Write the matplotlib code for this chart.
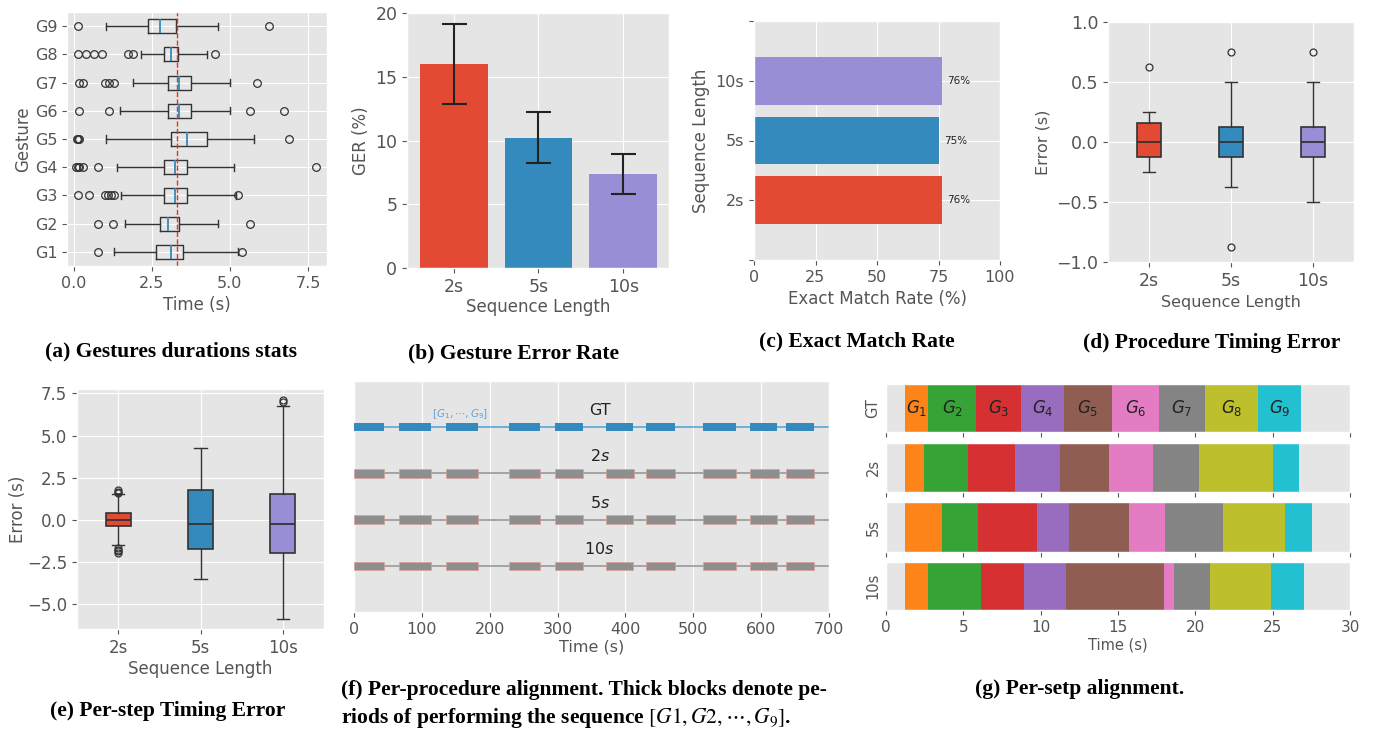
import matplotlib
matplotlib.use('Agg')
import matplotlib.pyplot as plt
import numpy as np

plt.style.use('ggplot')

# ---------------- data ----------------
gestures = ['G1', 'G2', 'G3', 'G4', 'G5', 'G6', 'G7', 'G8', 'G9']
dur_q1 = [2.63, 2.76, 2.88, 2.88, 3.12, 3.00, 3.00, 2.88, 2.39]
dur_med = [3.12, 3.00, 3.25, 3.25, 3.63, 3.38, 3.38, 3.12, 2.77]
dur_q3 = [3.50, 3.38, 3.63, 3.63, 4.26, 3.76, 3.76, 3.35, 3.26]
dur_whislo = [1.27, 1.63, 1.50, 1.39, 1.02, 1.47, 1.89, 2.14, 1.02]
dur_whishi = [5.26, 4.63, 5.20, 5.14, 5.78, 5.00, 5.00, 4.26, 4.63]
dur_fliers = [[0.76, 5.38],
              [0.76, 1.26, 5.63],
              [0.12, 0.50, 1.00, 1.10, 1.20, 1.28, 5.25],
              [0.06, 0.12, 0.18, 0.29, 0.76, 7.75],
              [0.10, 0.12, 0.15, 6.88],
              [0.15, 1.13, 5.63, 6.74],
              [0.15, 0.28, 1.00, 1.13, 1.27, 5.86],
              [0.12, 0.39, 0.64, 0.89, 1.73, 1.88, 4.51],
              [0.12, 6.25]]
dur_mean_line = 3.3

seq_labels = ['2s', '5s', '10s']
ger = [16.0, 10.2, 7.37]
ger_err = [3.1, 2.0, 1.6]

emr = [76.4, 75.2, 76.4]

proc_q1 = [-0.125, -0.125, -0.125]
proc_med = [0.0, 0.0, 0.0]
proc_q3 = [0.155, 0.125, 0.125]
proc_whislo = [-0.25, -0.375, -0.5]
proc_whishi = [0.25, 0.5, 0.5]
proc_fliers = [[0.625], [0.75, -0.875], [0.75]]

step_q1 = [-0.36, -1.74, -1.98]
step_med = [0.0, -0.24, -0.24]
step_q3 = [0.39, 1.77, 1.51]
step_whislo = [-1.47, -3.50, -5.85]
step_whishi = [1.52, 4.26, 6.76]
step_fliers = [[1.60, 1.68, 1.78, -1.65, -1.75, -1.85, -1.95],
               [],
               [7.00, 7.12]]

proc_rows = ['GT', '$2s$', '$5s$', '$10s$']
gt_starts = [0, 66.3, 135, 228, 296, 371, 431, 515, 583, 636]
gt_ends = [43.7, 113, 182, 274, 338, 411, 473, 563, 624, 678]
p2_starts = [0, 66.3, 135, 228, 296, 371, 431, 515, 583, 636]
p2_ends = [43.7, 113, 182, 274, 338, 412, 473, 563, 626, 678]
p5_starts = [0, 66.3, 135, 228, 296, 371, 431, 515, 583, 636]
p5_ends = [43.7, 113, 182, 274, 338, 411, 473, 563, 624, 678]
p10_starts = [0, 66.3, 135, 228, 296, 371, 431, 515, 583, 636]
p10_ends = [43.7, 113, 182, 274, 338, 411, 473, 563, 624, 678]

step_rows = ['GT', '2s', '5s', '10s']
step_gt = [1.21, 2.72, 5.84, 8.75, 11.49, 14.61, 17.63, 20.65, 24.07, 26.83]
step_2s = [1.21, 2.44, 5.32, 8.36, 11.25, 14.42, 17.24, 20.26, 25.04, 26.70]
step_5s = [1.21, 3.60, 5.97, 9.76, 11.85, 15.73, 18.02, 21.77, 25.80, 27.56]
step_10s = [1.21, 2.72, 6.12, 8.90, 11.66, 17.97, 18.60, 20.97, 24.89, 27.03]

# ---------------- style ----------------
W, H = 1375, 732
fig = plt.figure(figsize=(W / 100, H / 100), dpi=100)

def rect(l, t, r, b):
    return [l / W, 1 - b / H, (r - l) / W, (b - t) / H]

C3 = ['#E24A33', '#348ABD', '#988ED5']
TXT = '#555555'
EDGE = '#333333'
seg_colors = ['#ff7f0e', '#2ca02c', '#d62728', '#9467bd', '#8c564b',
              '#e377c2', '#7f7f7f', '#bcbd22', '#17becf']

def style(ax, tick=11, label=12):
    ax.tick_params(labelsize=tick, colors=TXT)
    ax.xaxis.label.set_size(label)
    ax.yaxis.label.set_size(label)
    ax.xaxis.label.set_color(TXT)
    ax.yaxis.label.set_color(TXT)

# ---------------- (a) ----------------
ax = fig.add_axes(rect(67, 12, 327, 266))
stats = [dict(med=m, q1=a, q3=b, whislo=lo, whishi=hi, fliers=f)
         for m, a, b, lo, hi, f in zip(dur_med, dur_q1, dur_q3, dur_whislo, dur_whishi, dur_fliers)]
ax.bxp(stats, positions=range(1, 10), orientation='horizontal', widths=0.5,
       boxprops=dict(color=EDGE, lw=1),
       whiskerprops=dict(color=EDGE, lw=1),
       capprops=dict(color=EDGE, lw=1),
       medianprops=dict(color='#348ABD', lw=1.3),
       flierprops=dict(marker='o', mfc='none', mec=EDGE, ms=5.5, mew=0.9))
ax.axvline(dur_mean_line, color='#E8331F', ls='--', lw=1)
ax.set_yticks(range(1, 10), gestures)
ax.set_xticks([0, 2.5, 5, 7.5])
ax.set_xlim(-0.22, 8.11)
ax.set_ylim(0.5, 9.5)
ax.set_xlabel('Time (s)')
ax.set_ylabel('Gesture', labelpad=2)
style(ax, tick=11.5, label=12)

# ---------------- (b) ----------------
ax = fig.add_axes(rect(407, 13, 669, 268))
ax.bar(range(3), ger, yerr=ger_err, color=C3, width=0.8, capsize=9,
       error_kw=dict(ecolor='#222222', elinewidth=1.5, capthick=1.5))
ax.set_xticks(range(3), seq_labels)
ax.set_xlim(-0.55, 2.54)
ax.set_ylim(0, 20)
ax.set_yticks([0, 5, 10, 15, 20])
ax.set_xlabel('Sequence Length', labelpad=2)
ax.set_ylabel('GER (%)')
style(ax, tick=12.5, label=12)

# ---------------- (c) ----------------
ax = fig.add_axes(rect(754, 21, 1000, 260))
ax.barh(range(3), emr, height=0.8, color=C3)
for i, v in enumerate(emr):
    ax.text(v + 2.2, i, f'{round(v)}%', va='center', ha='left', fontsize=7.5, color='#222222')
ax.set_yticks([-1, 0, 1, 2, 3], [''] + seq_labels + [''])
ax.set_ylim(-1, 3)
ax.set_xlim(0, 100)
ax.set_xticks([0, 25, 50, 75, 100])
ax.set_xlabel('Exact Match Rate (%)')
ax.set_ylabel('Sequence Length')
style(ax, tick=11.5, label=12)

# ---------------- (d) ----------------
def colored_box(ax, q1, med, q3, lo, hi, fl):
    st = [dict(med=m, q1=a, q3=b, whislo=l, whishi=h, fliers=f)
          for m, a, b, l, h, f in zip(med, q1, q3, lo, hi, fl)]
    bp = ax.bxp(st, positions=[1, 2, 3], widths=0.3, patch_artist=True,
                boxprops=dict(edgecolor=EDGE, lw=1.2),
                whiskerprops=dict(color=EDGE, lw=1),
                capprops=dict(color=EDGE, lw=1),
                medianprops=dict(color=EDGE, lw=1.3),
                flierprops=dict(marker='o', mfc='none', mec=EDGE, ms=5, mew=0.9))
    for b, c in zip(bp['boxes'], C3):
        b.set_facecolor(c)
    ax.set_xticks([1, 2, 3], seq_labels)
    ax.set_xlim(0.5, 3.5)

ax = fig.add_axes(rect(1108, 22, 1354, 262))
colored_box(ax, proc_q1, proc_med, proc_q3, proc_whislo, proc_whishi, proc_fliers)
ax.set_ylim(-1, 1)
ax.set_yticks([-1, -0.5, 0, 0.5, 1])
ax.set_xlabel('Sequence Length')
ax.set_ylabel('Error (s)')
style(ax, tick=12.5, label=11.5)

# ---------------- (e) ----------------
ax = fig.add_axes(rect(77, 389, 324, 629))
colored_box(ax, step_q1, step_med, step_q3, step_whislo, step_whishi, step_fliers)
ax.set_ylim(-6.46, 7.76)
ax.set_yticks([-5, -2.5, 0, 2.5, 5, 7.5])
ax.set_xlabel('Sequence Length', labelpad=2)
ax.set_ylabel('Error (s)', labelpad=0)
style(ax, tick=12, label=12)

# ---------------- (f) ----------------
ax = fig.add_axes(rect(354, 381, 829, 612))
row_data = [(gt_starts, gt_ends), (p2_starts, p2_ends), (p5_starts, p5_ends), (p10_starts, p10_ends)]
for k, (name, (st, en)) in enumerate(zip(proc_rows, row_data)):
    y = 3 - k
    segs = [(s, e - s) for s, e in zip(st, en)]
    if k == 0:
        ax.axhline(y, color='#5DA5DA', lw=1.2, zorder=2)
        ax.broken_barh(segs, (y - 0.085, 0.17), facecolors='#348ABD', edgecolors='none', zorder=3)
    else:
        ax.axhline(y, color='#999999', lw=1.2, zorder=2)
        ax.broken_barh(segs, (y - 0.09, 0.18), facecolors='#8E8E8E', edgecolors='#D9A096',
                       lw=0.5, zorder=3)
    ax.text(362, y + 0.37, name, ha='center', va='center', fontsize=11.5, color='#222222')
ax.text(157, 3 + 0.29, r'$[G_1, \cdots, G_9]$', ha='center', va='center', fontsize=7.5, color='#5DA5DA')
ax.set_xlim(0, 700)
ax.set_ylim(-1, 4)
ax.set_yticks([])
ax.set_xticks(range(0, 701, 100))
ax.set_xlabel('Time (s)', labelpad=2)
style(ax, tick=11.5, label=11.5)

# ---------------- (g) ----------------
rows_px = [(384, 432), (443, 492), (502, 552), (562, 610)]
step_bounds = [step_gt, step_2s, step_5s, step_10s]
for k, (name, bnd, (t, b)) in enumerate(zip(step_rows, step_bounds, rows_px)):
    ax = fig.add_axes(rect(886, t, 1350, b))
    segs = [(bnd[i], bnd[i + 1] - bnd[i]) for i in range(len(bnd) - 1)]
    ax.broken_barh(segs, (0, 1), facecolors=seg_colors, edgecolors='none', alpha=0.95)
    if k == 0:
        for i, (s, w) in enumerate(segs):
            ax.text(s + w / 2, 0.5, f'$G_{i + 1}$', ha='center', va='center',
                    fontsize=12, color='#222222')
    ax.set_xlim(0, 30)
    ax.set_ylim(0, 1)
    ax.grid(False)
    ax.set_yticks([])
    ax.set_xticks(range(0, 31, 5))
    ax.tick_params(axis='x', length=3.5, color='#333333')
    if k < 3:
        ax.set_xticklabels([])
    else:
        ax.set_xlabel('Time (s)', labelpad=2)
    ax.set_ylabel(name, labelpad=4)
    style(ax, tick=11, label=10.5)

# ---------------- captions ----------------
cap = dict(fontfamily='Liberation Serif', fontweight='bold', fontsize=15.5, color='black',
           va='center')
fig.text(171 / W, 1 - 351 / H, '(a) Gestures durations stats', ha='center', **cap)
fig.text(514 / W, 1 - 353 / H, '(b) Gesture Error Rate', ha='center', **cap)
fig.text(857 / W, 1 - 341 / H, '(c) Exact Match Rate', ha='center', **cap)
fig.text(1212 / W, 1 - 343 / H, '(d) Procedure Timing Error', ha='center', **cap)
fig.text(168 / W, 1 - 711 / H, '(e) Per-step Timing Error', ha='center', **cap)
fig.text(341 / W, 1 - 690 / H, '(f) Per-procedure alignment. Thick blocks denote pe-', ha='left', **cap)
fig.text(341 / W, 1 - 718 / H, r'riods of performing the sequence $[G1, G2, \cdots, G_9]$.',
         ha='left', math_fontfamily='stix', **cap)
fig.text(1080 / W, 1 - 689 / H, '(g) Per-setp alignment.', ha='center', **cap)

fig.savefig('out.png', dpi=100, facecolor='white')
